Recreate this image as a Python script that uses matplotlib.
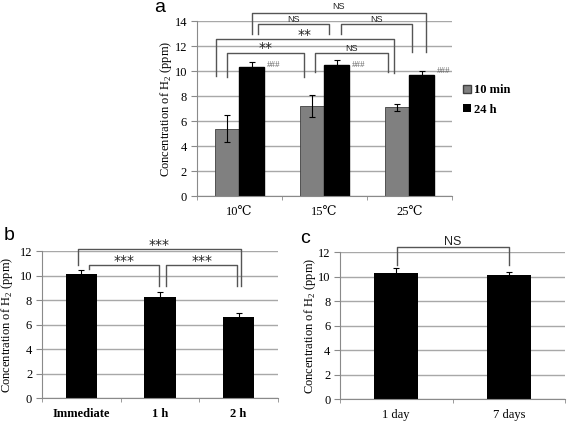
import numpy as np
import matplotlib
matplotlib.use('Agg')
import matplotlib.pyplot as plt
from matplotlib.patches import Patch

plt.rcParams['font.family'] = ['Liberation Serif', 'DejaVu Serif', 'DejaVu Sans']
plt.rcParams['mathtext.fontset'] = 'custom'
plt.rcParams['mathtext.rm'] = 'Liberation Serif'

# panel a
temps = ['10℃', '15℃', '25℃']
min10 = [5.4, 7.2, 7.1]
min10_err = [1.05, 0.85, 0.3]
h24 = [10.3, 10.5, 9.7]
h24_err = [0.4, 0.35, 0.3]

# panel b
times_b = ['Immediate', '1 h', '2 h']
vals_b = [10.1, 8.25, 6.6]
err_b = [0.35, 0.42, 0.32]

# panel c
days_c = ['1 day', '7 days']
vals_c = [10.3, 10.15]
err_c = [0.4, 0.22]

YLAB = 'Concentration of H$_\\mathrm{2}$ (ppm)'
GRID = '#a8a8a8'
BRK = '#555555'
SANS = ['Liberation Sans', 'DejaVu Sans']


def style_axes(ax, n, ymax, labx):
    ax.set_xlim(-0.5, n - 0.5)
    ax.set_ylim(0, ymax)
    ax.set_yticks(np.arange(0, ymax + 1, 2))
    ax.yaxis.grid(True, color=GRID, linewidth=1)
    ax.set_axisbelow(True)
    for s in ['top', 'right']:
        ax.spines[s].set_visible(False)
    for s in ['left', 'bottom']:
        ax.spines[s].set_color('#8a8a8a')
    ax.set_xticks(np.arange(n))
    ax.set_xticks(np.arange(n + 1) - 0.5, minor=True)
    ax.tick_params(axis='x', which='major', length=0, pad=7, labelsize=9)
    ax.tick_params(axis='x', which='minor', length=3, color='#8a8a8a')
    ax.tick_params(axis='y', length=4, color='#8a8a8a', labelsize=9, pad=3)
    ax.set_ylabel(YLAB, fontsize=9)
    ax.yaxis.label.set_va('center')
    ax.yaxis.set_label_coords(labx, 0.5)


def bracket(ax, x1, x2, y, yl1, yl2, label, ty, fs=7, star=False):
    ax.plot([x1, x1, x2, x2], [yl1, y, y, yl2], color=BRK, lw=1, clip_on=False)
    fam = ['DejaVu Sans'] if star else SANS
    ax.text((x1 + x2) / 2, ty, label, ha='center', va='center',
            fontsize=fs, family=fam, color='#222222', clip_on=False)


fig = plt.figure(figsize=(5.67, 4.22), dpi=100)

# ---- a
ax = fig.add_axes([0.347, 0.5355, 0.450, 0.4147])
x = np.arange(len(temps))
w = 0.29
ekw = dict(ecolor='black', elinewidth=0.8, capsize=2.5, capthick=0.8)
ax.bar(x - w / 2, min10, w, yerr=min10_err, color='#808080', edgecolor='#404040',
       linewidth=0.6, error_kw=ekw, label='10 min')
ax.bar(x + w / 2, h24, w, yerr=h24_err, color='black', edgecolor='black',
       error_kw=ekw, label='24 h')
style_axes(ax, len(temps), 14, -0.12)
ax.set_xticklabels(temps)
for xi, yv in zip(x, [10.48, 10.48, 10.0]):
    ax.text(xi + 0.32, yv, '###', fontsize=6.5, color='#666666', va='center')
bracket(ax, -0.147, 0.759, 11.46, 9.5, 9.5, '**', 11.85, fs=10, star=True)
bracket(ax, 0.888, 1.747, 11.46, 9.95, 9.95, 'NS', 11.8, fs=6.5)
bracket(ax, -0.276, 1.818, 12.53, 9.6, 9.87, '**', 12.9, fs=10, star=True)
bracket(ax, 0.218, 1.053, 13.8, 13.0, 13.0, 'NS', 14.16, fs=6.5)
bracket(ax, 1.194, 2.029, 13.8, 13.0, 11.55, 'NS', 14.16, fs=6.5)
bracket(ax, 0.147, 2.194, 14.67, 13.0, 11.55, 'NS', 15.2, fs=6.5)
handles = [Patch(facecolor='#808080', edgecolor='#404040', label='10 min'),
           Patch(facecolor='black', label='24 h')]
leg = ax.legend(handles=handles, loc='center left', bbox_to_anchor=(1.0, 0.55),
                frameon=False, handlelength=0.6, handleheight=0.6,
                handletextpad=0.3, fontsize=9, labelspacing=0.6)
for t in leg.get_texts():
    t.set_fontweight('bold')

# ---- b
axb = fig.add_axes([0.074, 0.0562, 0.416, 0.349])
xb = np.arange(len(times_b))
axb.bar(xb, vals_b, 0.4, yerr=err_b, color='black', error_kw=ekw)
style_axes(axb, len(times_b), 12, -0.148)
axb.set_xticklabels(times_b, fontweight='bold')
bracket(axb, -0.04, 2.03, 12.2, 10.9, 9.15, '***', 12.5, fs=10, star=True)
bracket(axb, 0.10, 0.99, 10.9, 10.5, 9.15, '***', 11.2, fs=10, star=True)
bracket(axb, 1.08, 1.98, 10.9, 9.15, 9.15, '***', 11.2, fs=10, star=True)

# ---- c
axc = fig.add_axes([0.5996, 0.0545, 0.397, 0.3476])
xc = np.arange(len(days_c))
axc.bar(xc, vals_c, 0.39, yerr=err_c, color='black', error_kw=ekw)
style_axes(axc, len(days_c), 12, -0.135)
axc.set_xticklabels(days_c)
bracket(axc, 0.01, 1.0, 12.4, 11.0, 11.0, 'NS', 12.85, fs=9)

fig.text(160 / 567, 1 - 8 / 422, 'a', fontsize=14, family=SANS, ha='center', va='center')
fig.text(9 / 567, 1 - 235 / 422, 'b', fontsize=14, family=SANS, ha='center', va='center')
fig.text(305 / 567, 1 - 238 / 422, 'c', fontsize=14, family=SANS, ha='center', va='center')

fig.savefig('out.png', dpi=100)
